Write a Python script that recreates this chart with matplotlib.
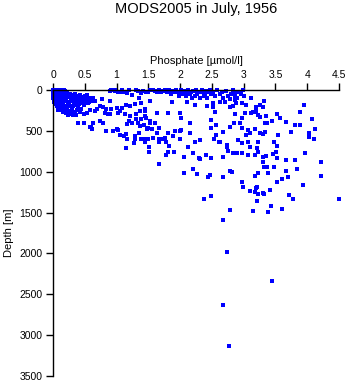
import numpy as np
import matplotlib.pyplot as plt

plt.rcParams['font.family'] = ['Liberation Sans', 'DejaVu Sans']

# --- data: (phosphate [umol/l], depth [m]) ---
# low-phosphate cluster near the surface
cluster = [
    (0.00, 0), (0.02, 0), (0.05, 0), (0.08, 0), (0.11, 0), (0.14, 0), (0.17, 0),
    (0.01, 10), (0.04, 10), (0.07, 10), (0.10, 10), (0.13, 10), (0.16, 10), (0.19, 10),
    (0.00, 20), (0.03, 20), (0.06, 20), (0.09, 20), (0.12, 20), (0.15, 20),
    (0.02, 30), (0.05, 30), (0.08, 30), (0.11, 30), (0.14, 30), (0.18, 30),
    (0.00, 50), (0.03, 50), (0.06, 50), (0.10, 50), (0.13, 50), (0.16, 50), (0.20, 50),
    (0.01, 75), (0.04, 75), (0.08, 75), (0.12, 75), (0.15, 75), (0.19, 75),
    (0.00, 100), (0.03, 100), (0.07, 100), (0.11, 100), (0.14, 100), (0.18, 100),
    (0.02, 125), (0.05, 125), (0.09, 125), (0.13, 125), (0.17, 125),
    (0.01, 150), (0.04, 150), (0.08, 150), (0.12, 150), (0.16, 150),
    (0.22, 40), (0.26, 45), (0.30, 60), (0.34, 55), (0.38, 70), (0.42, 65), (0.46, 80),
    (0.50, 75), (0.54, 90), (0.58, 100), (0.24, 90), (0.28, 100), (0.32, 110), (0.36, 95),
    (0.40, 120), (0.44, 115), (0.48, 130), (0.52, 140), (0.56, 125), (0.21, 130),
    (0.25, 150), (0.29, 140), (0.33, 160), (0.37, 150), (0.41, 170), (0.45, 165),
    (0.49, 180), (0.23, 175), (0.27, 190), (0.31, 200), (0.35, 185), (0.53, 60),
    (0.57, 150), (0.20, 200), (0.23, 70), (0.27, 75), (0.31, 85), (0.35, 120),
    (0.39, 100), (0.43, 140), (0.47, 105), (0.51, 110), (0.55, 160), (0.60, 130),
    (0.06, 200), (0.10, 210), (0.14, 190), (0.18, 220), (0.08, 240), (0.12, 250),
    (0.16, 235), (0.22, 245), (0.26, 260), (0.30, 250), (0.34, 275), (0.38, 240),
    (0.42, 265), (0.20, 280), (0.24, 300), (0.28, 290), (0.15, 270), (0.32, 310),
    (0.36, 300), (0.40, 220), (0.44, 230), (0.05, 175), (0.10, 180), (0.15, 170),
]

# upper 120 m, higher phosphate
surface = [
    (0.92, 0), (0.98, 0), (1.02, 20), (1.08, 0), (1.12, 30), (1.20, 0),
    (1.30, 0), (1.42, 10), (1.50, 20),
    (1.57, 0), (1.60, 10), (1.63, 20), (1.66, 0), (1.70, 30), (1.73, 10), (1.76, 0),
    (1.80, 20), (1.83, 0), (1.86, 50), (1.88, 10), (1.91, 30), (1.94, 0), (1.97, 20),
    (1.99, 75),
    (2.01, 0), (2.03, 30), (2.05, 50), (2.07, 10), (2.09, 75), (2.11, 20), (2.13, 0),
    (2.15, 50), (2.17, 30), (2.19, 100), (2.21, 10), (2.23, 75), (2.25, 0), (2.27, 50),
    (2.29, 20), (2.31, 100), (2.33, 30), (2.35, 0), (2.37, 75), (2.39, 50), (2.41, 10),
    (2.43, 100), (2.45, 30), (2.47, 0), (2.49, 50),
    (2.52, 20), (2.55, 75), (2.58, 0), (2.62, 50), (2.66, 30), (2.72, 10), (2.76, 75),
    (2.80, 50), (2.84, 0), (2.87, 30), (2.90, 100), (2.93, 20), (2.96, 50), (2.99, 0),
    (3.01, 75), (2.78, 110), (2.68, 100), (2.86, 73),
]

# phosphate below 2, intermediate depths
mid_low = [
    (0.90, 12), (0.97, 12), (1.05, 24), (1.16, 33), (1.24, 65), (1.34, 12), (1.39, 33),
    (1.47, 24), (1.53, 0), (1.36, 94), (1.53, 134), (1.39, 155), (1.29, 175),
    (1.21, 196), (1.15, 187), (1.08, 216), (1.00, 216), (0.92, 236), (0.84, 236),
    (0.79, 204), (0.74, 196), (0.69, 228), (0.66, 257), (0.58, 244), (0.53, 277),
    (0.48, 297), (0.82, 277), (0.87, 297), (0.90, 297), (1.03, 277), (1.05, 257),
    (1.13, 297), (1.21, 318), (1.31, 297), (1.37, 257), (1.45, 236), (1.47, 338),
    (1.39, 350), (1.30, 358), (1.25, 399), (1.20, 379), (1.17, 420), (1.33, 407),
    (1.37, 440), (1.43, 432), (1.48, 473), (1.52, 379), (1.36, 521), (1.29, 562),
    (1.17, 603), (1.12, 562), (1.05, 554), (1.00, 481), (0.95, 501), (0.84, 501),
    (0.79, 399), (0.63, 399), (0.58, 448), (0.61, 473), (0.48, 399), (0.39, 399),
    (0.74, 379), (0.66, 134), (0.77, 114), (0.89, 134), (0.63, 94), (1.29, 595),
    (1.39, 595), (1.50, 603), (1.15, 534), (1.03, 489), (0.60, 456),
    (1.87, 147), (1.81, 277), (1.64, 285), (1.55, 481), (1.50, 460), (1.53, 399),
    (1.60, 399), (1.66, 460), (1.63, 521), (1.58, 583), (1.66, 603), (1.73, 603),
    (1.76, 583), (1.81, 521), (1.89, 562), (1.92, 501), (2.00, 501), (1.45, 318),
    (1.45, 257), (1.45, 603), (2.00, 603),
    (1.15, 713), (1.28, 652), (1.44, 631), (1.51, 692), (1.51, 753), (1.67, 639),
    (1.67, 904), (1.78, 631), (1.78, 798), (1.83, 684), (1.81, 753), (1.91, 762),
]

# phosphate above 2, down to about 1350 m
mid_high = [
    (2.11, 151), (2.23, 183), (2.42, 196), (2.51, 155), (2.52, 204), (2.63, 143),
    (2.70, 143), (2.78, 204), (2.83, 196), (2.86, 122), (2.97, 163), (3.04, 183),
    (3.11, 102), (3.20, 204), (3.30, 212), (3.32, 134), (3.15, 265), (3.19, 265),
    (3.02, 285), (2.86, 297), (2.97, 346), (2.94, 399), (2.85, 399), (2.78, 448),
    (2.68, 509), (2.55, 265), (2.49, 367), (2.57, 428), (2.48, 468), (2.63, 632),
    (2.73, 672), (2.76, 745), (2.83, 774), (2.88, 766), (2.97, 774), (3.12, 285),
    (3.23, 305), (3.25, 334), (3.35, 318), (3.33, 407), (3.37, 407), (3.44, 375),
    (3.53, 293), (3.57, 346), (3.66, 387), (3.80, 428), (3.88, 428), (3.95, 183),
    (3.88, 269), (4.08, 354), (4.12, 480), (4.03, 521), (4.03, 578), (4.11, 603),
    (3.74, 509), (3.54, 550), (3.33, 509), (3.30, 542), (3.25, 530), (3.18, 480),
    (3.10, 530), (3.07, 489), (2.98, 468), (2.91, 611), (2.97, 644), (3.07, 632),
    (3.10, 692), (3.23, 640), (3.21, 713), (3.23, 753), (3.30, 814), (3.35, 806),
    (3.31, 884), (3.18, 794), (3.07, 794), (3.48, 632), (3.52, 684), (3.51, 753),
    (3.46, 782), (3.52, 835), (3.67, 855), (3.80, 855), (3.96, 774), (4.22, 876),
    (3.32, 945), (3.37, 945), (3.48, 937), (3.39, 1010), (3.66, 990), (3.84, 969),
    (3.69, 1059), (4.22, 1051), (3.61, 1092), (3.53, 1128), (3.23, 1010), (3.18, 1051),
    (2.98, 1120), (2.81, 998), (2.78, 990), (2.68, 1059), (2.47, 1038), (2.44, 1059),
    (2.26, 1030), (2.06, 1018), (2.21, 969), (2.06, 823), (2.31, 847), (2.49, 835),
    (2.68, 823), (2.41, 794), (2.21, 766), (2.13, 692), (2.23, 632), (2.31, 611),
    (2.00, 603), (2.16, 530), (2.02, 489), (2.01, 338), (2.15, 407), (2.00, 285),
    (2.56, 550), (2.53, 603), (2.61, 632), (2.73, 692), (2.90, 774), (3.04, 550),
    (3.20, 236), (3.25, 183), (2.88, 163), (3.19, 1202), (3.23, 1271), (2.99, 1189),
    (3.71, 1283), (3.93, 1161), (3.31, 1263), (3.41, 1222), (3.21, 1193), (3.10, 1230),
    (2.30, 835), (2.21, 774),
]

# deep samples
deep = [
    (2.38, 1336), (2.49, 1299), (3.18, 1250), (3.32, 1275), (3.21, 1356), (3.72, 1287),
    (3.78, 1336), (4.50, 1336), (2.79, 1470), (3.15, 1483), (3.39, 1495), (3.43, 1422),
    (3.61, 1458), (2.68, 1593), (2.73, 1983), (3.45, 2342), (2.68, 2631), (2.77, 3132),
]

x_ticks = [0, 0.5, 1, 1.5, 2, 2.5, 3, 3.5, 4, 4.5]
x_labels = ['0', '0.5', '1', '1.5', '2', '2.5', '3', '3.5', '4', '4.5']
y_ticks = [0, 500, 1000, 1500, 2000, 2500, 3000, 3500]

W, H = 350, 384
fig = plt.figure(figsize=(W / 100, H / 100), dpi=100)
ax = fig.add_axes([53 / W, 1 - 376 / H, 286 / W, 286 / H])

pts = np.array(cluster + surface + mid_low + mid_high + deep, dtype=float)
ax.plot(pts[:, 0], pts[:, 1], ls='none', marker='s', ms=2.3, mew=0,
        color='#0000ff', clip_on=False)

ax.set_xlim(0, 4.5)
ax.set_ylim(3500, 0)
ax.xaxis.tick_top()
ax.xaxis.set_label_position('top')
ax.set_xticks(x_ticks)
ax.set_xticklabels(x_labels)
ax.set_yticks(y_ticks)
ax.set_yticklabels([str(v) for v in y_ticks])
ax.tick_params(direction='out', length=5, width=1, labelsize=7.5, pad=2.5,
               colors='black')

for side in ['right', 'bottom']:
    ax.spines[side].set_visible(False)
for side in ['left', 'top']:
    ax.spines[side].set_linewidth(1)

ax.set_xlabel('Phosphate [\u00b5mol/l]', fontsize=8, labelpad=4)
ax.set_ylabel('Depth [m]', fontsize=8, labelpad=4)

fig.text(196 / W, 1 - 9 / H, 'MODS2005 in July, 1956', ha='center', va='center',
         fontsize=10.5)

fig.savefig('out.png', dpi=100)
